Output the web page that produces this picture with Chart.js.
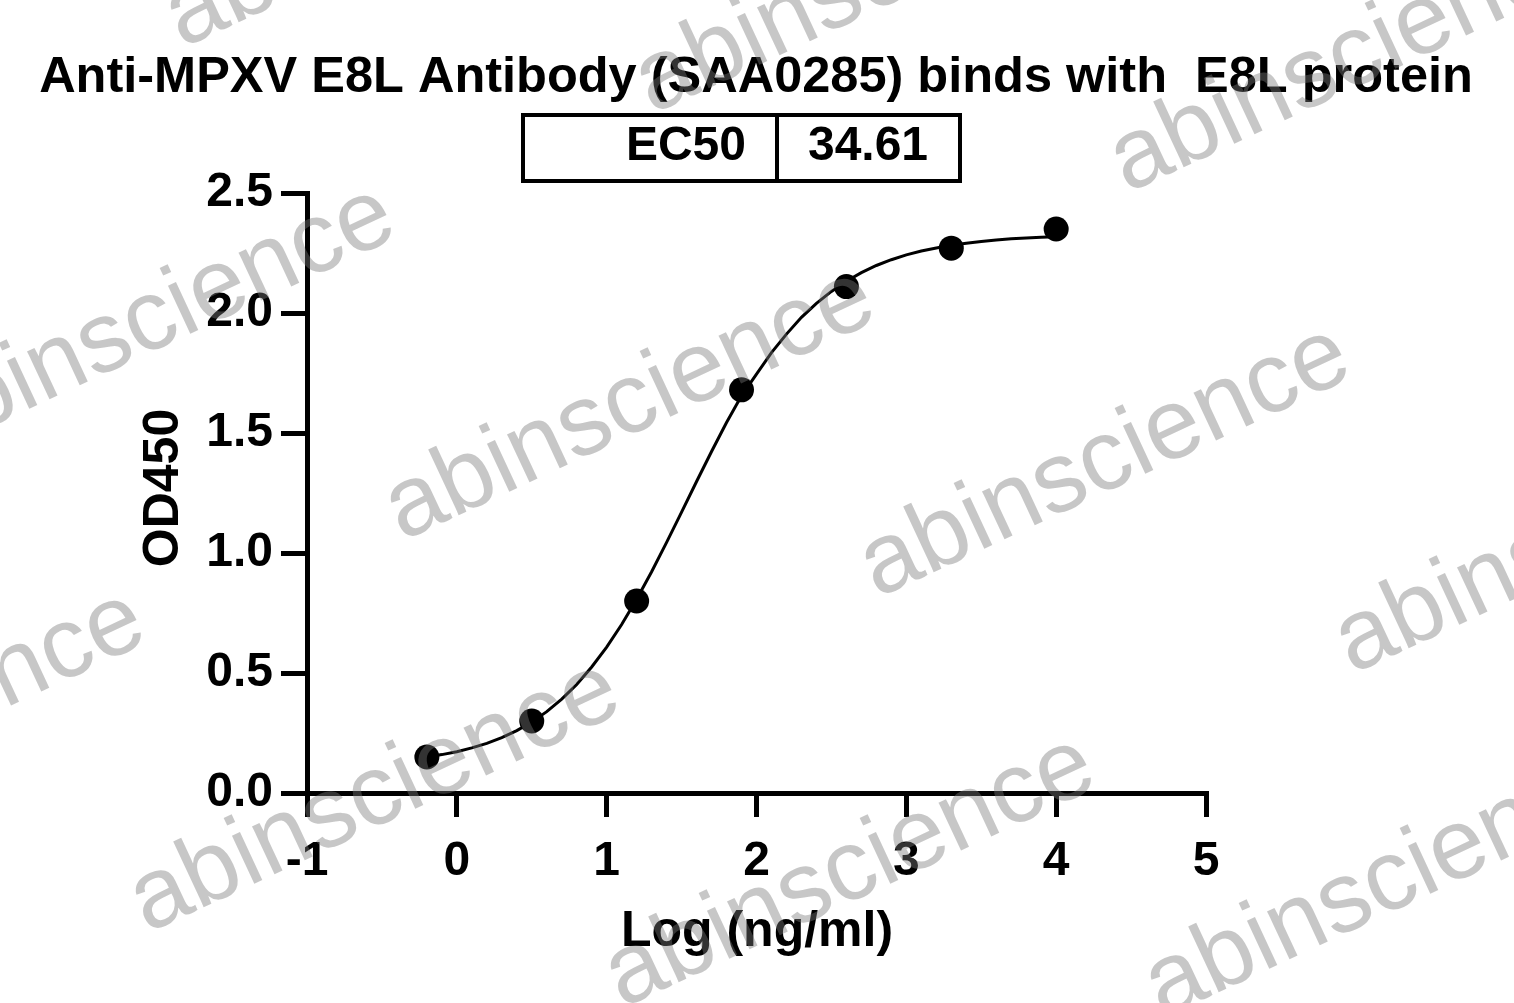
<!DOCTYPE html>
<html>
<head>
<meta charset="utf-8">
<script src="https://cdn.jsdelivr.net/npm/chart.js@4.4.1/dist/chart.umd.min.js"></script>
<style>
  html, body { margin: 0; padding: 0; background: #fff; }
  #wrap { position: relative; width: 1514px; height: 1003px; }
</style>
</head>
<body>
<div id="wrap"><canvas id="c" width="1514" height="1003"></canvas></div>
<script>
// ---- data ----
const chartTitle = "Anti-MPXV E8L Antibody (SAA0285) binds with  E8L protein";
const ec50Label = "EC50";
const ec50Value = "34.61";
const xTitle = "Log (ng/ml)";
const yTitle = "OD450";
const watermarkText = "abinscience";

const logConc = [-0.2, 0.5, 1.2, 1.9, 2.6, 3.3, 4.0];
const od450   = [0.15, 0.30, 0.80, 1.68, 2.11, 2.27, 2.35];

// fitted curve
const curveX = [-0.2,-0.1,0.0,0.1,0.2,0.3,0.4,0.5,0.6,0.7,0.8,0.9,1.0,1.1,1.2,1.3,1.4,1.5,1.6,1.7,1.8,1.9,2.0,2.1,2.2,2.3,2.4,2.5,2.6,2.7,2.8,2.9,3.0,3.1,3.2,3.3,3.4,3.5,3.6,3.7,3.8,3.9,4.0];
const curveY = [0.150,0.160,0.172,0.188,0.207,0.231,0.260,0.296,0.339,0.391,0.452,0.525,0.608,0.702,0.807,0.922,1.044,1.170,1.298,1.423,1.544,1.655,1.745,1.835,1.912,1.982,2.040,2.090,2.132,2.168,2.198,2.222,2.242,2.258,2.271,2.282,2.291,2.298,2.304,2.309,2.313,2.316,2.318];

const xMin = -1, xMax = 5, xStep = 1;
const yMin = 0, yMax = 2.5, yStep = 0.5;

// ---- drawing ----
const FONT = '"Liberation Sans", Arial, Helvetica, sans-serif';

const decorPlugin = {
  id: 'decor',
  afterDraw(chart) {
    const ctx = chart.ctx;
    ctx.save();
    ctx.fillStyle = '#000';
    // title
    ctx.font = 'bold 50.5px ' + FONT;
    ctx.textAlign = 'center';
    ctx.textBaseline = 'alphabetic';
    ctx.fillText(chartTitle, 756, 92);
    // EC50 box
    ctx.lineWidth = 4;
    ctx.strokeStyle = '#000';
    ctx.strokeRect(523, 115, 437, 66);
    ctx.beginPath();
    ctx.moveTo(777, 115); ctx.lineTo(777, 181); ctx.stroke();
    ctx.font = 'bold 48px ' + FONT;
    ctx.textAlign = 'right';
    ctx.fillText(ec50Label, 746, 160);
    ctx.textAlign = 'center';
    ctx.fillText(ec50Value, 868, 160);
    // axis titles
    ctx.font = 'bold 50px ' + FONT;
    ctx.textAlign = 'center';
    ctx.fillText(xTitle, 757, 946);
    ctx.save();
    ctx.translate(178, 488);
    ctx.rotate(-Math.PI / 2);
    ctx.fillText(yTitle, 0, 0);
    ctx.restore();
    // watermarks
    ctx.font = '100px ' + FONT;
    ctx.fillStyle = 'rgba(122,122,122,0.42)';
    ctx.textAlign = 'center';
    ctx.textBaseline = 'middle';
    const marks = [[630,405],[1105,462],[375,797],[850,872],[1390,882],[150,322],[-100,727],[1580,538],[1355,57],[880,-22],[410,-88]];
    for (const [mx, my] of marks) {
      ctx.save();
      ctx.translate(mx, my);
      ctx.rotate(-25 * Math.PI / 180);
      ctx.fillText(watermarkText, 0, 0);
      ctx.restore();
    }
    ctx.restore();
  }
};

new Chart(document.getElementById('c'), {
  type: 'scatter',
  data: {
    datasets: [
      {
        label: 'fit',
        data: curveX.map((x, i) => ({ x: x, y: curveY[i] })),
        showLine: true,
        borderColor: '#000',
        borderWidth: 3,
        pointRadius: 0,
        tension: 0,
        order: 2
      },
      {
        label: 'data',
        data: logConc.map((x, i) => ({ x: x, y: od450[i] })),
        showLine: false,
        pointRadius: 12.5,
        pointBackgroundColor: '#000',
        pointBorderColor: '#000',
        pointBorderWidth: 0,
        order: 1
      }
    ]
  },
  options: {
    responsive: false,
    animation: false,
    events: [],
    layout: { padding: { left: 0, right: 308, top: 193, bottom: 0 } },
    plugins: { legend: { display: false }, tooltip: { enabled: false }, title: { display: false } },
    scales: {
      x: {
        type: 'linear',
        min: xMin, max: xMax,
        afterFit(scale) { scale.height = 210; },
        border: { display: true, color: '#000', width: 5 },
        grid: { drawOnChartArea: false, drawTicks: true, tickLength: 24, color: '#000', lineWidth: 5 },
        ticks: {
          stepSize: xStep,
          color: '#000',
          padding: 16,
          font: { family: FONT, size: 48, weight: 'bold' },
          callback: v => String(v)
        }
      },
      y: {
        type: 'linear',
        min: yMin, max: yMax,
        afterFit(scale) { scale.width = 307; },
        border: { display: true, color: '#000', width: 5 },
        grid: { drawOnChartArea: false, drawTicks: true, tickLength: 26, color: '#000', lineWidth: 5 },
        ticks: {
          stepSize: yStep,
          color: '#000',
          padding: 8,
          font: { family: FONT, size: 48, weight: 'bold' },
          callback: v => Number(v).toFixed(1)
        }
      }
    }
  },
  plugins: [decorPlugin]
});
</script>
</body>
</html>
